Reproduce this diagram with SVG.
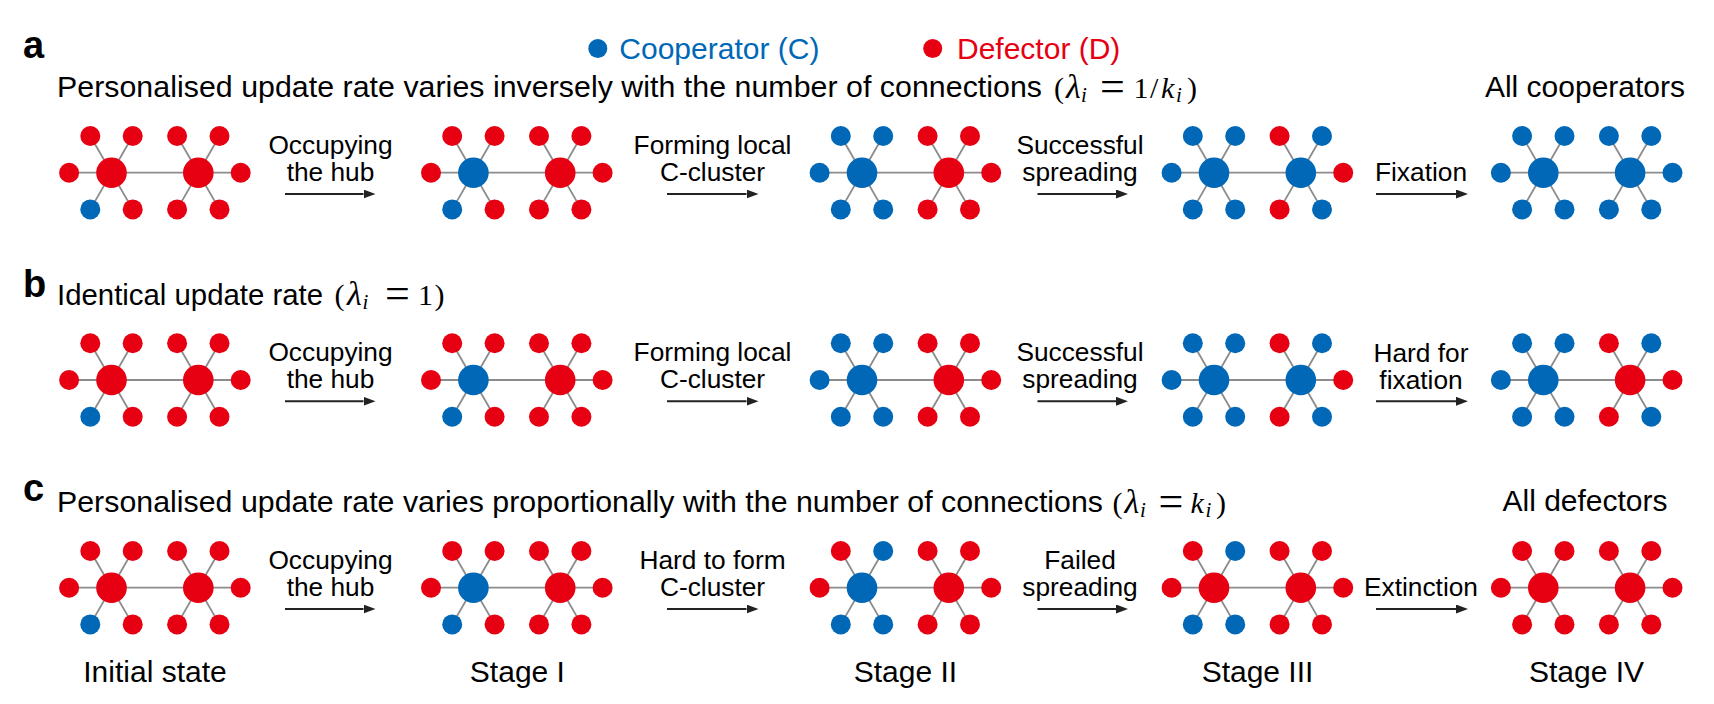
<svg xmlns="http://www.w3.org/2000/svg" xmlns:xlink="http://www.w3.org/1999/xlink" width="1714" height="704" viewBox="0 0 1714 704">
<style>
.t{font-family:"Liberation Sans",Arial,sans-serif;fill:#000}
.ti{font-size:30.3px}
.lb{font-size:26.3px;text-anchor:middle}
.st{font-size:30px;text-anchor:middle}
.pl{font-size:38px;font-weight:bold}
.m{font-family:"Liberation Serif","Times New Roman",serif;font-size:30px;fill:#000}
.it{font-style:italic}
.lam{font-style:italic;font-size:34px}
.sb{font-size:21px;font-style:italic}
.eq{font-size:44px}
.e{stroke:#8c8c8c;stroke-width:1.8;fill:none}
.c{fill:#0068B7}
.d{fill:#E60012}
.ar{stroke:#222;stroke-width:2;fill:none}
</style>
<defs>
<path id="edges" class="e" d="M0 0H86.8M0 0L-21.2 -36.7M0 0L21.2 -36.7M0 0H-42.4M0 0L-21.2 36.7M0 0L21.2 36.7M86.8 0L65.6 -36.7M86.8 0L108 -36.7M86.8 0H129.2M86.8 0L65.6 36.7M86.8 0L108 36.7"/>
<marker id="ah" markerUnits="userSpaceOnUse" markerWidth="12" markerHeight="9" refX="0" refY="4.5" orient="auto" viewBox="0 0 12 9">
<path d="M0 0L12 4.5L0 9z" fill="#222"/>
</marker>
</defs>

<g id="panel-labels">
<text class="t pl" x="23" y="58.3">a</text>
<text class="t pl" x="23" y="297">b</text>
<text class="t pl" x="23" y="501">c</text>
</g>

<g id="legend">
<circle class="c" cx="597.8" cy="48.5" r="9.5"/>
<text class="t" x="619.3" y="59" font-size="30" style="fill:#0068B7">Cooperator (C)</text>
<circle class="d" cx="932.7" cy="48.5" r="9.5"/>
<text class="t" x="957" y="59" font-size="30" style="fill:#E60012">Defector (D)</text>
</g>

<g id="titles">
<text class="t ti" x="57" y="96.7" textLength="985" lengthAdjust="spacing">Personalised update rate varies inversely with the number of connections</text>
<text class="m" y="97.5"><tspan x="1054">(</tspan><tspan class="lam" x="1066">λ</tspan><tspan class="sb" x="1081" y="101.5">i</tspan><tspan class="eq" x="1100" y="100.5">=</tspan><tspan x="1133.4" y="97.5">1</tspan><tspan x="1150">/</tspan><tspan class="it" x="1161">k</tspan><tspan class="sb" x="1176" y="101.5">i</tspan><tspan x="1187" y="97.5">)</tspan></text>
<text class="t" x="1585" y="96.7" font-size="30" text-anchor="middle">All cooperators</text>

<text class="t ti" x="57" y="304.5" textLength="266" lengthAdjust="spacingAndGlyphs">Identical update rate</text>
<text class="m" y="305"><tspan x="334.5">(</tspan><tspan class="lam" x="347">λ</tspan><tspan class="sb" x="362.5" y="309">i</tspan><tspan class="eq" x="385" y="308">=</tspan><tspan x="418" y="305">1</tspan><tspan x="434.5">)</tspan></text>

<text class="t ti" x="57" y="511.7" textLength="1046" lengthAdjust="spacing">Personalised update rate varies proportionally with the number of connections</text>
<text class="m" y="512.5"><tspan x="1112.5">(</tspan><tspan class="lam" x="1124.5">λ</tspan><tspan class="sb" x="1140" y="516.5">i</tspan><tspan class="eq" x="1158.5" y="515.5">=</tspan><tspan class="it" x="1190.5" y="512.5">k</tspan><tspan class="sb" x="1205.5" y="516.5">i</tspan><tspan x="1216" y="512.5">)</tspan></text>
<text class="t" x="1585" y="510.7" font-size="30" text-anchor="middle">All defectors</text>
</g>

<!-- Row a -->
<g id="a-initial" transform="translate(111.5 172.7)"><use href="#edges"/>
<circle class="d" cx="-21.2" cy="-36.7" r="10"/><circle class="d" cx="21.2" cy="-36.7" r="10"/><circle class="d" cx="-42.4" cy="0" r="10"/><circle class="c" cx="-21.2" cy="36.7" r="10"/><circle class="d" cx="21.2" cy="36.7" r="10"/><circle class="d" cx="0" cy="0" r="15.3"/>
<circle class="d" cx="65.6" cy="-36.7" r="10"/><circle class="d" cx="108" cy="-36.7" r="10"/><circle class="d" cx="129.2" cy="0" r="10"/><circle class="d" cx="65.6" cy="36.7" r="10"/><circle class="d" cx="108" cy="36.7" r="10"/><circle class="d" cx="86.8" cy="0" r="15.3"/></g>
<g id="a-stage1" transform="translate(473.4 172.7)"><use href="#edges"/>
<circle class="d" cx="-21.2" cy="-36.7" r="10"/><circle class="d" cx="21.2" cy="-36.7" r="10"/><circle class="d" cx="-42.4" cy="0" r="10"/><circle class="c" cx="-21.2" cy="36.7" r="10"/><circle class="d" cx="21.2" cy="36.7" r="10"/><circle class="c" cx="0" cy="0" r="15.3"/>
<circle class="d" cx="65.6" cy="-36.7" r="10"/><circle class="d" cx="108" cy="-36.7" r="10"/><circle class="d" cx="129.2" cy="0" r="10"/><circle class="d" cx="65.6" cy="36.7" r="10"/><circle class="d" cx="108" cy="36.7" r="10"/><circle class="d" cx="86.8" cy="0" r="15.3"/></g>
<g id="a-stage2" transform="translate(862 172.7)"><use href="#edges"/>
<circle class="c" cx="-21.2" cy="-36.7" r="10"/><circle class="c" cx="21.2" cy="-36.7" r="10"/><circle class="c" cx="-42.4" cy="0" r="10"/><circle class="c" cx="-21.2" cy="36.7" r="10"/><circle class="c" cx="21.2" cy="36.7" r="10"/><circle class="c" cx="0" cy="0" r="15.3"/>
<circle class="d" cx="65.6" cy="-36.7" r="10"/><circle class="d" cx="108" cy="-36.7" r="10"/><circle class="d" cx="129.2" cy="0" r="10"/><circle class="d" cx="65.6" cy="36.7" r="10"/><circle class="d" cx="108" cy="36.7" r="10"/><circle class="d" cx="86.8" cy="0" r="15.3"/></g>
<g id="a-stage3" transform="translate(1214 172.7)"><use href="#edges"/>
<circle class="c" cx="-21.2" cy="-36.7" r="10"/><circle class="c" cx="21.2" cy="-36.7" r="10"/><circle class="c" cx="-42.4" cy="0" r="10"/><circle class="c" cx="-21.2" cy="36.7" r="10"/><circle class="c" cx="21.2" cy="36.7" r="10"/><circle class="c" cx="0" cy="0" r="15.3"/>
<circle class="d" cx="65.6" cy="-36.7" r="10"/><circle class="c" cx="108" cy="-36.7" r="10"/><circle class="d" cx="129.2" cy="0" r="10"/><circle class="d" cx="65.6" cy="36.7" r="10"/><circle class="c" cx="108" cy="36.7" r="10"/><circle class="c" cx="86.8" cy="0" r="15.3"/></g>
<g id="a-stage4" transform="translate(1543.3 172.7)"><use href="#edges"/>
<circle class="c" cx="-21.2" cy="-36.7" r="10"/><circle class="c" cx="21.2" cy="-36.7" r="10"/><circle class="c" cx="-42.4" cy="0" r="10"/><circle class="c" cx="-21.2" cy="36.7" r="10"/><circle class="c" cx="21.2" cy="36.7" r="10"/><circle class="c" cx="0" cy="0" r="15.3"/>
<circle class="c" cx="65.6" cy="-36.7" r="10"/><circle class="c" cx="108" cy="-36.7" r="10"/><circle class="c" cx="129.2" cy="0" r="10"/><circle class="c" cx="65.6" cy="36.7" r="10"/><circle class="c" cx="108" cy="36.7" r="10"/><circle class="c" cx="86.8" cy="0" r="15.3"/></g>

<!-- Row b -->
<g id="b-initial" transform="translate(111.5 380)"><use href="#edges"/>
<circle class="d" cx="-21.2" cy="-36.7" r="10"/><circle class="d" cx="21.2" cy="-36.7" r="10"/><circle class="d" cx="-42.4" cy="0" r="10"/><circle class="c" cx="-21.2" cy="36.7" r="10"/><circle class="d" cx="21.2" cy="36.7" r="10"/><circle class="d" cx="0" cy="0" r="15.3"/>
<circle class="d" cx="65.6" cy="-36.7" r="10"/><circle class="d" cx="108" cy="-36.7" r="10"/><circle class="d" cx="129.2" cy="0" r="10"/><circle class="d" cx="65.6" cy="36.7" r="10"/><circle class="d" cx="108" cy="36.7" r="10"/><circle class="d" cx="86.8" cy="0" r="15.3"/></g>
<g id="b-stage1" transform="translate(473.4 380)"><use href="#edges"/>
<circle class="d" cx="-21.2" cy="-36.7" r="10"/><circle class="d" cx="21.2" cy="-36.7" r="10"/><circle class="d" cx="-42.4" cy="0" r="10"/><circle class="c" cx="-21.2" cy="36.7" r="10"/><circle class="d" cx="21.2" cy="36.7" r="10"/><circle class="c" cx="0" cy="0" r="15.3"/>
<circle class="d" cx="65.6" cy="-36.7" r="10"/><circle class="d" cx="108" cy="-36.7" r="10"/><circle class="d" cx="129.2" cy="0" r="10"/><circle class="d" cx="65.6" cy="36.7" r="10"/><circle class="d" cx="108" cy="36.7" r="10"/><circle class="d" cx="86.8" cy="0" r="15.3"/></g>
<g id="b-stage2" transform="translate(862 380)"><use href="#edges"/>
<circle class="c" cx="-21.2" cy="-36.7" r="10"/><circle class="c" cx="21.2" cy="-36.7" r="10"/><circle class="c" cx="-42.4" cy="0" r="10"/><circle class="c" cx="-21.2" cy="36.7" r="10"/><circle class="c" cx="21.2" cy="36.7" r="10"/><circle class="c" cx="0" cy="0" r="15.3"/>
<circle class="d" cx="65.6" cy="-36.7" r="10"/><circle class="d" cx="108" cy="-36.7" r="10"/><circle class="d" cx="129.2" cy="0" r="10"/><circle class="d" cx="65.6" cy="36.7" r="10"/><circle class="d" cx="108" cy="36.7" r="10"/><circle class="d" cx="86.8" cy="0" r="15.3"/></g>
<g id="b-stage3" transform="translate(1214 380)"><use href="#edges"/>
<circle class="c" cx="-21.2" cy="-36.7" r="10"/><circle class="c" cx="21.2" cy="-36.7" r="10"/><circle class="c" cx="-42.4" cy="0" r="10"/><circle class="c" cx="-21.2" cy="36.7" r="10"/><circle class="c" cx="21.2" cy="36.7" r="10"/><circle class="c" cx="0" cy="0" r="15.3"/>
<circle class="d" cx="65.6" cy="-36.7" r="10"/><circle class="c" cx="108" cy="-36.7" r="10"/><circle class="d" cx="129.2" cy="0" r="10"/><circle class="d" cx="65.6" cy="36.7" r="10"/><circle class="c" cx="108" cy="36.7" r="10"/><circle class="c" cx="86.8" cy="0" r="15.3"/></g>
<g id="b-stage4" transform="translate(1543.3 380)"><use href="#edges"/>
<circle class="c" cx="-21.2" cy="-36.7" r="10"/><circle class="c" cx="21.2" cy="-36.7" r="10"/><circle class="c" cx="-42.4" cy="0" r="10"/><circle class="c" cx="-21.2" cy="36.7" r="10"/><circle class="c" cx="21.2" cy="36.7" r="10"/><circle class="c" cx="0" cy="0" r="15.3"/>
<circle class="d" cx="65.6" cy="-36.7" r="10"/><circle class="c" cx="108" cy="-36.7" r="10"/><circle class="d" cx="129.2" cy="0" r="10"/><circle class="d" cx="65.6" cy="36.7" r="10"/><circle class="c" cx="108" cy="36.7" r="10"/><circle class="d" cx="86.8" cy="0" r="15.3"/></g>

<!-- Row c -->
<g id="c-initial" transform="translate(111.5 587.7)"><use href="#edges"/>
<circle class="d" cx="-21.2" cy="-36.7" r="10"/><circle class="d" cx="21.2" cy="-36.7" r="10"/><circle class="d" cx="-42.4" cy="0" r="10"/><circle class="c" cx="-21.2" cy="36.7" r="10"/><circle class="d" cx="21.2" cy="36.7" r="10"/><circle class="d" cx="0" cy="0" r="15.3"/>
<circle class="d" cx="65.6" cy="-36.7" r="10"/><circle class="d" cx="108" cy="-36.7" r="10"/><circle class="d" cx="129.2" cy="0" r="10"/><circle class="d" cx="65.6" cy="36.7" r="10"/><circle class="d" cx="108" cy="36.7" r="10"/><circle class="d" cx="86.8" cy="0" r="15.3"/></g>
<g id="c-stage1" transform="translate(473.4 587.7)"><use href="#edges"/>
<circle class="d" cx="-21.2" cy="-36.7" r="10"/><circle class="d" cx="21.2" cy="-36.7" r="10"/><circle class="d" cx="-42.4" cy="0" r="10"/><circle class="c" cx="-21.2" cy="36.7" r="10"/><circle class="d" cx="21.2" cy="36.7" r="10"/><circle class="c" cx="0" cy="0" r="15.3"/>
<circle class="d" cx="65.6" cy="-36.7" r="10"/><circle class="d" cx="108" cy="-36.7" r="10"/><circle class="d" cx="129.2" cy="0" r="10"/><circle class="d" cx="65.6" cy="36.7" r="10"/><circle class="d" cx="108" cy="36.7" r="10"/><circle class="d" cx="86.8" cy="0" r="15.3"/></g>
<g id="c-stage2" transform="translate(862 587.7)"><use href="#edges"/>
<circle class="d" cx="-21.2" cy="-36.7" r="10"/><circle class="c" cx="21.2" cy="-36.7" r="10"/><circle class="d" cx="-42.4" cy="0" r="10"/><circle class="c" cx="-21.2" cy="36.7" r="10"/><circle class="c" cx="21.2" cy="36.7" r="10"/><circle class="c" cx="0" cy="0" r="15.3"/>
<circle class="d" cx="65.6" cy="-36.7" r="10"/><circle class="d" cx="108" cy="-36.7" r="10"/><circle class="d" cx="129.2" cy="0" r="10"/><circle class="d" cx="65.6" cy="36.7" r="10"/><circle class="d" cx="108" cy="36.7" r="10"/><circle class="d" cx="86.8" cy="0" r="15.3"/></g>
<g id="c-stage3" transform="translate(1214 587.7)"><use href="#edges"/>
<circle class="d" cx="-21.2" cy="-36.7" r="10"/><circle class="c" cx="21.2" cy="-36.7" r="10"/><circle class="d" cx="-42.4" cy="0" r="10"/><circle class="c" cx="-21.2" cy="36.7" r="10"/><circle class="c" cx="21.2" cy="36.7" r="10"/><circle class="d" cx="0" cy="0" r="15.3"/>
<circle class="d" cx="65.6" cy="-36.7" r="10"/><circle class="d" cx="108" cy="-36.7" r="10"/><circle class="d" cx="129.2" cy="0" r="10"/><circle class="d" cx="65.6" cy="36.7" r="10"/><circle class="d" cx="108" cy="36.7" r="10"/><circle class="d" cx="86.8" cy="0" r="15.3"/></g>
<g id="c-stage4" transform="translate(1543.3 587.7)"><use href="#edges"/>
<circle class="d" cx="-21.2" cy="-36.7" r="10"/><circle class="d" cx="21.2" cy="-36.7" r="10"/><circle class="d" cx="-42.4" cy="0" r="10"/><circle class="d" cx="-21.2" cy="36.7" r="10"/><circle class="d" cx="21.2" cy="36.7" r="10"/><circle class="d" cx="0" cy="0" r="15.3"/>
<circle class="d" cx="65.6" cy="-36.7" r="10"/><circle class="d" cx="108" cy="-36.7" r="10"/><circle class="d" cx="129.2" cy="0" r="10"/><circle class="d" cx="65.6" cy="36.7" r="10"/><circle class="d" cx="108" cy="36.7" r="10"/><circle class="d" cx="86.8" cy="0" r="15.3"/></g>

<g id="connectors">
<path class="ar" marker-end="url(#ah)" d="M285 194H363.5"/>
<path class="ar" marker-end="url(#ah)" d="M667 194H746.5"/>
<path class="ar" marker-end="url(#ah)" d="M1037.5 194H1116"/>
<path class="ar" marker-end="url(#ah)" d="M1376 194H1456"/>
<path class="ar" marker-end="url(#ah)" d="M285 401.3H363.5"/>
<path class="ar" marker-end="url(#ah)" d="M667 401.3H746.5"/>
<path class="ar" marker-end="url(#ah)" d="M1037.5 401.3H1116"/>
<path class="ar" marker-end="url(#ah)" d="M1376 401.3H1456"/>
<path class="ar" marker-end="url(#ah)" d="M285 609H363.5"/>
<path class="ar" marker-end="url(#ah)" d="M667 609H746.5"/>
<path class="ar" marker-end="url(#ah)" d="M1037.5 609H1116"/>
<path class="ar" marker-end="url(#ah)" d="M1376 609H1456"/>
</g>

<g id="connector-labels">
<text class="t lb" x="330.5" y="153.5">Occupying</text><text class="t lb" x="330.5" y="180.5">the hub</text>
<text class="t lb" x="712.5" y="153.5">Forming local</text><text class="t lb" x="712.5" y="180.5">C-cluster</text>
<text class="t lb" x="1080" y="153.5">Successful</text><text class="t lb" x="1080" y="180.5">spreading</text>
<text class="t lb" x="1421" y="181">Fixation</text>

<text class="t lb" x="330.5" y="361">Occupying</text><text class="t lb" x="330.5" y="388">the hub</text>
<text class="t lb" x="712.5" y="361">Forming local</text><text class="t lb" x="712.5" y="388">C-cluster</text>
<text class="t lb" x="1080" y="361">Successful</text><text class="t lb" x="1080" y="388">spreading</text>
<text class="t lb" x="1421" y="362">Hard for</text><text class="t lb" x="1421" y="389">fixation</text>

<text class="t lb" x="330.5" y="569">Occupying</text><text class="t lb" x="330.5" y="596">the hub</text>
<text class="t lb" x="712.5" y="569">Hard to form</text><text class="t lb" x="712.5" y="596">C-cluster</text>
<text class="t lb" x="1080" y="569">Failed</text><text class="t lb" x="1080" y="596">spreading</text>
<text class="t lb" x="1421" y="596">Extinction</text>
</g>

<g id="stage-labels">
<text class="t st" x="155" y="681.7">Initial state</text>
<text class="t st" x="517.4" y="681.7">Stage I</text>
<text class="t st" x="905.4" y="681.7">Stage II</text>
<text class="t st" x="1257.5" y="681.7">Stage III</text>
<text class="t st" x="1586.5" y="681.7">Stage IV</text>
</g>
</svg>
